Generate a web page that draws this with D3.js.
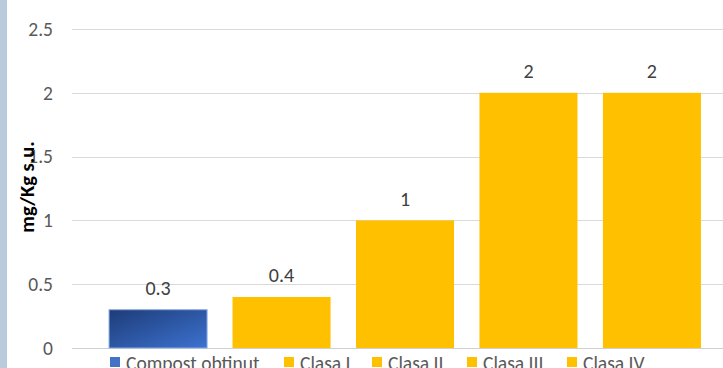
<!DOCTYPE html>
<html>
<head>
<meta charset="utf-8">
<script src="https://cdn.jsdelivr.net/npm/d3@7/dist/d3.min.js"></script>
<style>
  html, body { margin: 0; padding: 0; background: #fff; }
  svg { display: block; }
</style>
</head>
<body>
<svg id="chart" width="723" height="368"></svg>
<script>
// Heavy-metal content of the compost vs. the class limits
const categories = ["Compost obtinut", "Clasa I", "Clasa II", "Clasa III", "Clasa IV"];
const values = [0.3, 0.4, 1, 2, 2];
const valueLabels = ["0.3", "0.4", "1", "2", "2"];
const yTicks = [0, 0.5, 1, 1.5, 2, 2.5];
const yTickLabels = ["0", "0.5", "1", "1.5", "2", "2.5"];
const axisTitle = "mg/Kg s.u.";

const W = 723, H = 368;
const svg = d3.select("#chart");
const font = "Carlito, 'Open Sans', 'Liberation Sans', sans-serif";

// left frame strip
svg.append("rect").attr("x", 0).attr("y", 0).attr("width", 7).attr("height", H).attr("fill", "#BACCDC");

const x = d3.scaleBand().domain(categories).range([72, 738]).paddingInner(0.206).paddingOuter(0.30);
const y = d3.scaleLinear().domain([0, 2.5]).range([348, 29]);

const defs = svg.append("defs");
const grad = defs.append("linearGradient").attr("id", "blueFill")
  .attr("x1", "0%").attr("y1", "0%").attr("x2", "100%").attr("y2", "100%");
grad.append("stop").attr("offset", "0%").attr("stop-color", "#1E3C78");
grad.append("stop").attr("offset", "100%").attr("stop-color", "#3C72D0");

// gridlines
svg.append("g").selectAll("line").data(yTicks).join("line")
  .attr("x1", 72).attr("x2", 738)
  .attr("y1", d => Math.round(y(d)) + 0.5).attr("y2", d => Math.round(y(d)) + 0.5)
  .attr("stroke", d => d === 0 ? "#D0D0D0" : "#D9D9D9").attr("stroke-width", 1.2);

// y axis labels
const yAxis = d3.axisLeft(y).tickValues(yTicks).tickSize(0).tickPadding(0)
  .tickFormat((d, i) => yTickLabels[i]);
const gy = svg.append("g").attr("transform", "translate(53,0)").call(yAxis);
gy.select(".domain").remove();
gy.selectAll("text").attr("fill", "#595959").style("font-family", font).style("font-size", "19.5px");

// axis title
svg.append("text")
  .attr("transform", "translate(34,187) rotate(-90)")
  .attr("text-anchor", "middle")
  .attr("fill", "#000")
  .style("font-family", font).style("font-size", "20.5px").style("font-weight", "bold")
  .text(axisTitle);

// bars
svg.append("g").selectAll("rect").data(categories).join("rect")
  .attr("x", d => x(d))
  .attr("width", x.bandwidth())
  .attr("y", (d, i) => y(values[i]))
  .attr("height", (d, i) => y(0) - y(values[i]))
  .attr("fill", (d, i) => i === 0 ? "url(#blueFill)" : "#FFC000")
  .attr("stroke", (d, i) => i === 0 ? "#8DADE3" : "none")
  .attr("stroke-width", 1);

// value labels
svg.append("g").selectAll("text").data(categories).join("text")
  .attr("x", d => x(d) + x.bandwidth() / 2)
  .attr("y", (d, i) => y(values[i]) - 14.5)
  .attr("text-anchor", "middle")
  .attr("fill", "#404040")
  .style("font-family", font).style("font-size", "20px")
  .text((d, i) => valueLabels[i]);

// legend
const legendX = [110, 284, 372, 467, 567];
const lg = svg.append("g").selectAll("g").data(categories).join("g")
  .attr("transform", (d, i) => `translate(${legendX[i]},357)`);
lg.append("rect").attr("width", 10).attr("height", 10)
  .attr("fill", (d, i) => i === 0 ? "#4472C4" : "#FFC000");
lg.append("text").attr("x", 16).attr("y", 13)
  .attr("fill", "#595959")
  .style("font-family", font).style("font-size", "19.5px")
  .text(d => d);
</script>
</body>
</html>
